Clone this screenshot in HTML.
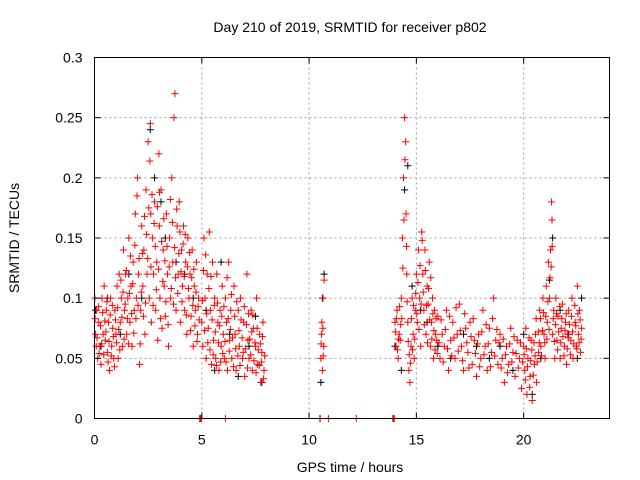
<!DOCTYPE html>
<html><head><meta charset="utf-8"><style>
html,body{margin:0;padding:0;background:#fff}
svg{display:block;font-family:"Liberation Sans",sans-serif}
</style></head><body>
<svg id="chart" width="640" height="480" viewBox="0 0 640 480" xmlns="http://www.w3.org/2000/svg">
<rect width="640" height="480" fill="#fff"/>
<text x="350" y="32" font-size="14" text-anchor="middle">Day 210 of 2019, SRMTID for receiver p802</text>
<text transform="translate(19,238) rotate(-90)" font-size="14" text-anchor="middle">SRMTID / TECUs</text>
<text x="350" y="472" font-size="14" text-anchor="middle">GPS time / hours</text>
<g id="grid"></g><g id="marks"></g><g id="axes"></g>
</svg>
<script>
const xTicks=[0,5,10,15,20];
const yTicks=[0,0.05,0.1,0.15,0.2,0.25,0.3];
const yTickLabels=["0","0.05","0.1","0.15","0.2","0.25","0.3"];
const redPoints=[[0.02,0.1],[0.05,0.07],[0.08,0.06],[0.1,0.09],[0.15,0.05],[0.2,0.08],[0.25,0.06],[0.3,0.045],[0.35,0.1],[0.4,0.07],[0.45,0.11],[0.5,0.065],[0.55,0.09],[0.6,0.055],[0.65,0.08],[0.7,0.04],[0.75,0.1],[0.8,0.06],[0.85,0.075],[0.9,0.05],[0.95,0.09],[1.0,0.07],
[1.05,0.11],[1.1,0.05],[1.15,0.12],[1.2,0.08],[1.25,0.1],[1.3,0.06],[1.35,0.14],[1.4,0.09],[1.45,0.12],[1.5,0.07],[1.55,0.1],[1.6,0.15],[1.65,0.08],[1.7,0.11],[1.75,0.06],[1.8,0.13],[1.85,0.09],[1.9,0.17],[1.95,0.1],[2.0,0.2],[2.05,0.12],[2.1,0.045],[2.15,0.09],[2.2,0.16],
[2.25,0.11],[2.3,0.14],[2.35,0.07],[2.4,0.19],[2.45,0.12],[2.5,0.23],[2.55,0.1],[2.6,0.245],[2.62,0.17],[2.65,0.08],[2.7,0.15],[2.75,0.12],[2.8,0.18],[2.85,0.09],[2.9,0.13],[2.95,0.065],[3.0,0.22],[3.02,0.16],[3.05,0.1],[3.1,0.19],[3.15,0.075],
[3.2,0.14],[3.25,0.11],[3.3,0.085],[3.35,0.17],[3.4,0.12],[3.45,0.06],[3.5,0.15],[3.55,0.1],[3.6,0.2],[3.65,0.13],[3.7,0.25],[3.75,0.27],[3.8,0.09],[3.85,0.16],[3.9,0.12],[3.95,0.18],[4.0,0.08],
[4.05,0.14],[4.1,0.11],[4.15,0.16],[4.2,0.09],[4.25,0.13],[4.3,0.07],[4.35,0.15],[4.4,0.1],[4.45,0.12],[4.5,0.085],[4.55,0.14],[4.6,0.06],[4.65,0.11],[4.7,0.09],[4.75,0.13],[4.8,0.07],[4.85,0.1],[4.9,0],[4.95,0],
[5.0,0.08],[5.05,0.06],[5.1,0.15],[5.15,0.1],[5.2,0.05],[5.25,0.12],[5.3,0.075],[5.35,0.155],[5.4,0.09],[5.45,0.045],[5.5,0.13],[5.55,0.065],[5.6,0.1],[5.65,0.05],[5.7,0.12],[5.75,0.08],[5.8,0.04],[5.85,0.09],[5.9,0.06],[5.95,0.11],[6.0,0.07],
[6.1,0],[6.05,0.05],[6.1,0.1],[6.15,0.08],[6.2,0.04],[6.25,0.13],[6.3,0.065],[6.35,0.09],[6.4,0.05],[6.5,0.11],[6.55,0.07],[6.6,0.04],[6.7,0.09],[6.75,0.06],[6.8,0.1],[6.9,0.05],[6.95,0.08],[7.0,0.035],[7.1,0.12],[7.15,0.065],[7.2,0.05],[7.3,0.09],[7.35,0.04],[7.4,0.075],[7.5,0.06],[7.55,0.1],[7.6,0.045],[7.7,0.07],[7.75,0.03],[7.8,0.055],[7.85,0.08],[7.9,0.04],
[10.5,0],[10.55,0.05],[10.58,0.07],[10.6,0.08],[10.62,0.04],[10.65,0.1],[10.68,0.06],[10.7,0.115],[10.9,0],[12.2,0],
[13.9,0],[13.95,0],[14.0,0.08],[14.05,0.06],[14.1,0.09],[14.15,0.05],[14.2,0.07],[14.25,0.065],[14.3,0.1],[14.35,0.15],[14.4,0.2],[14.45,0.25],[14.5,0.23],[14.52,0.17],[14.55,0.12],[14.6,0.08],[14.65,0.04],[14.7,0.03],[14.75,0.06],[14.8,0.1],[14.85,0.07],[14.9,0.05],[14.95,0.09],[15.0,0.12],
[15.05,0.08],[15.1,0.14],[15.15,0.1],[15.2,0.06],[15.25,0.155],[15.3,0.12],[15.35,0.09],[15.4,0.14],[15.45,0.07],[15.5,0.11],[15.55,0.095],[15.6,0.13],[15.65,0.06],[15.7,0.08],[15.75,0.1],[15.8,0.05],[15.85,0.09],[15.9,0.07],[15.95,0.065],[16.0,0.085],
[16.1,0.05],[16.2,0.07],[16.3,0.06],[16.4,0.09],[16.5,0.04],[16.6,0.065],[16.7,0.08],[16.8,0.05],[16.9,0.07],[17.0,0.095],[17.1,0.06],[17.2,0.04],[17.3,0.075],[17.4,0.055],[17.5,0.08],[17.6,0.045],[17.7,0.065],[17.8,0.035],[17.9,0.07],[18.0,0.05],[18.1,0.09],[18.2,0.06],[18.3,0.04],[18.4,0.075],[18.5,0.055],[18.6,0.1],[18.7,0.065],[18.8,0.045],[18.9,0.07],[19.0,0.05],[19.1,0.03],[19.2,0.06],[19.3,0.045],[19.4,0.075],[19.5,0.055],[19.6,0.035],[19.7,0.065],[19.8,0.05],[19.9,0.025],[20.0,0.06],
[20.05,0.04],[20.1,0.075],[20.15,0.02],[20.2,0.05],[20.3,0.035],[20.35,0.065],[20.4,0.015],[20.5,0.045],[20.55,0.07],[20.6,0.03],[20.7,0.055],[20.75,0.09],[20.8,0.06],[20.9,0.1],[20.95,0.07],
[21.0,0.05],[21.05,0.11],[21.1,0.08],[21.15,0.13],[21.2,0.1],[21.25,0.14],[21.3,0.18],[21.32,0.165],[21.35,0.07],[21.4,0.09],[21.45,0.05],[21.5,0.1],[21.55,0.065],[21.6,0.085],[21.7,0.05],[21.75,0.075],[21.8,0.095],[21.9,0.06],[21.95,0.08],[22.0,0.045],[22.05,0.07],[22.1,0.09],[22.2,0.065],[22.25,0.1],[22.3,0.05],[22.4,0.08],[22.45,0.06],[22.5,0.11],[22.55,0.07],[22.6,0.09],[22.65,0.055],[22.7,0.075]];
const redPointsExtra=[[0.03,0.083],[0.12,0.067],[0.18,0.093],[0.22,0.054],[0.28,0.077],[0.33,0.062],[0.38,0.088],[0.43,0.053],[0.48,0.081],[0.53,0.072],[0.58,0.097],[0.63,0.047],[0.68,0.064],[0.73,0.086],[0.78,0.052],[0.83,0.094],[0.88,0.068],[0.93,0.043],[0.98,0.082],
[1.03,0.063],[1.08,0.092],[1.13,0.074],[1.18,0.057],[1.23,0.115],[1.28,0.084],[1.33,0.105],[1.38,0.066],[1.43,0.095],[1.48,0.123],[1.53,0.083],[1.58,0.062],[1.63,0.104],[1.68,0.135],[1.73,0.087],[1.78,0.112],[1.83,0.071],[1.88,0.144],[1.93,0.083],[1.98,0.185],[2.03,0.094],[2.08,0.133],[2.13,0.062],[2.18,0.105],[2.23,0.137],
[2.28,0.085],[2.33,0.168],[2.38,0.096],[2.43,0.153],[2.48,0.133],[2.53,0.175],[2.58,0.214],[2.63,0.126],[2.68,0.186],[2.73,0.094],[2.78,0.162],[2.83,0.143],[2.88,0.107],[2.93,0.176],[2.98,0.124],[3.03,0.188],[3.08,0.083],[3.13,0.147],[3.18,0.114],
[3.23,0.166],[3.28,0.131],[3.33,0.097],[3.38,0.143],[3.43,0.078],[3.48,0.126],[3.53,0.182],[3.58,0.108],[3.63,0.163],[3.68,0.095],[3.73,0.142],[3.78,0.117],[3.83,0.174],[3.88,0.104],[3.93,0.137],[3.98,0.155],[4.03,0.122],
[4.08,0.097],[4.13,0.145],[4.18,0.118],[4.23,0.153],[4.28,0.086],[4.33,0.126],[4.38,0.108],[4.43,0.138],[4.48,0.073],[4.53,0.117],[4.58,0.094],[4.63,0.124],[4.68,0.077],[4.73,0.105],[4.78,0.064],[4.83,0.093],[4.88,0.082],[4.92,0],[4.97,0],[4.99,0],
[5.03,0.098],[5.08,0.123],[5.13,0.073],[5.18,0.136],[5.23,0.087],[5.28,0.063],[5.33,0.108],[5.38,0.057],[5.43,0.118],[5.48,0.082],[5.53,0.053],[5.58,0.094],[5.63,0.072],[5.68,0.044],[5.73,0.096],[5.78,0.063],[5.83,0.077],[5.88,0.047],[5.93,0.085],[5.98,0.054],
[6.03,0.093],[6.08,0.064],[6.13,0.047],[6.18,0.117],[6.23,0.083],[6.28,0.056],[6.33,0.074],[6.38,0.103],[6.43,0.067],[6.48,0.043],[6.53,0.085],[6.58,0.058],[6.63,0.097],[6.68,0.052],[6.73,0.073],[6.78,0.044],[6.83,0.082],[6.88,0.067],[6.93,0.055],[6.98,0.093],
[7.03,0.058],[7.08,0.078],[7.13,0.042],[7.18,0.087],[7.23,0.066],[7.28,0.053],[7.33,0.072],[7.38,0.086],[7.43,0.048],[7.48,0.063],[7.53,0.038],[7.58,0.075],[7.63,0.057],[7.68,0.044],[7.73,0.062],[7.78,0.047],[7.83,0.068],[7.88,0.033],[7.93,0.052],
[10.51,0],[10.52,0],[10.56,0.062],[10.64,0.075],[10.66,0.052],
[13.92,0],[13.97,0],[14.02,0.072],[14.07,0.083],[14.12,0.057],[14.17,0.066],[14.22,0.093],[14.27,0.078],[14.32,0.083],[14.37,0.125],[14.42,0.165],[14.47,0.215],[14.54,0.143],[14.57,0.097],[14.62,0.064],[14.67,0.053],[14.72,0.046],[14.77,0.083],[14.82,0.057],[14.87,0.094],[14.92,0.066],[14.97,0.104],
[15.02,0.087],[15.07,0.113],[15.12,0.074],[15.17,0.127],[15.22,0.095],[15.27,0.148],[15.32,0.105],[15.37,0.078],[15.42,0.123],[15.47,0.094],[15.52,0.063],[15.57,0.108],[15.62,0.082],[15.67,0.117],[15.72,0.066],[15.77,0.087],[15.82,0.073],[15.87,0.057],[15.92,0.083],[15.97,0.054],
[16.05,0.063],[16.15,0.082],[16.25,0.047],[16.35,0.074],[16.45,0.058],[16.55,0.085],[16.65,0.052],[16.75,0.067],[16.85,0.092],[16.95,0.056],[17.05,0.073],[17.15,0.048],[17.25,0.087],[17.35,0.063],[17.45,0.042],[17.55,0.068],[17.65,0.083],[17.75,0.054],[17.85,0.062],[17.95,0.043],[18.05,0.072],[18.15,0.053],[18.25,0.078],[18.35,0.062],[18.45,0.043],[18.55,0.083],[18.65,0.052],[18.75,0.074],[18.85,0.063],[18.95,0.042],[19.05,0.066],[19.15,0.053],[19.25,0.038],[19.35,0.062],[19.45,0.047],[19.55,0.068],[19.65,0.054],[19.75,0.042],[19.85,0.063],[19.95,0.047],
[20.02,0.053],[20.08,0.032],[20.12,0.058],[20.18,0.043],[20.25,0.067],[20.28,0.026],[20.33,0.048],[20.38,0.057],[20.45,0.036],[20.48,0.063],[20.53,0.052],[20.58,0.083],[20.63,0.047],[20.68,0.072],[20.73,0.063],[20.78,0.083],[20.83,0.052],[20.88,0.073],[20.93,0.088],[20.98,0.063],
[21.03,0.085],[21.08,0.066],[21.13,0.097],[21.18,0.074],[21.23,0.117],[21.28,0.126],[21.33,0.143],[21.38,0.083],[21.43,0.064],[21.48,0.078],[21.53,0.087],[21.58,0.057],[21.63,0.072],[21.68,0.093],[21.73,0.063],[21.78,0.083],[21.83,0.068],[21.88,0.052],[21.93,0.073],[21.98,0.087],[22.03,0.058],[22.08,0.067],[22.13,0.078],[22.18,0.053],[22.23,0.085],[22.28,0.072],[22.33,0.062],[22.38,0.094],[22.43,0.077],[22.48,0.058],[22.53,0.087],[22.58,0.063],[22.63,0.082],[22.68,0.066]];
const blackPoints=[[0.05,0.09],[0.3,0.06],[0.6,0.1],[1.2,0.07],[1.6,0.12],[2.2,0.1],[2.6,0.24],[2.8,0.2],[3.1,0.18],[3.3,0.15],[3.8,0.13],[4.2,0.12],[4.6,0.1],[5.2,0.09],[5.6,0.04],[5.9,0.13],[6.3,0.07],[6.7,0.035],[7.2,0.06],[7.5,0.085],[7.8,0.03],[10.55,0.03],[10.62,0.1],[10.7,0.12],[14.0,0.06],[14.3,0.04],[14.45,0.19],[14.6,0.21],[14.8,0.11],[15.2,0.09],[15.5,0.08],[16.0,0.06],[16.6,0.05],[17.2,0.07],[17.8,0.06],[18.4,0.05],[18.9,0.06],[19.5,0.04],[20.0,0.07],[20.4,0.02],[20.8,0.05],[21.2,0.115],[21.35,0.15],[21.7,0.09],[22.1,0.07],[22.5,0.05],[22.7,0.1]];

const L=94.5,R=609.5,T=57.5,B=418.5;
const xMin=0,xMax=24,yMin=0,yMax=0.3;
function xs(v){return L+(v-xMin)/(xMax-xMin)*(R-L);}
function ys(v){return B-(v-yMin)/(yMax-yMin)*(B-T);}
const NS="http://www.w3.org/2000/svg";
function mk(tag,attrs,parent){const e=document.createElementNS(NS,tag);for(const k in attrs)e.setAttribute(k,attrs[k]);parent.appendChild(e);return e;}
const grid=document.getElementById('grid'),marks=document.getElementById('marks'),axes=document.getElementById('axes');
xTicks.forEach(t=>{
  const x=xs(t);
  if(t>xMin){const g=mk('line',{x1:x,y1:T,x2:x,y2:B,stroke:'#a0a0a0','stroke-dasharray':'2,3'},grid);
  
  }
  mk('line',{x1:x,y1:B,x2:x,y2:B-6,stroke:'#000'},axes);
  mk('line',{x1:x,y1:T,x2:x,y2:T+6,stroke:'#000'},axes);
  const lb=mk('text',{x:x,y:B+26,'font-size':14,'text-anchor':'middle'},axes);
  lb.textContent=String(t);
  
  
});
yTicks.forEach((t,i)=>{
  const y=ys(t);
  if(t>yMin&&t<yMax){const g=mk('line',{x1:L,y1:y,x2:R,y2:y,stroke:'#a0a0a0','stroke-dasharray':'2,3'},grid);
  
  }
  mk('line',{x1:L,y1:y,x2:L+6,y2:y,stroke:'#000'},axes);
  mk('line',{x1:R,y1:y,x2:R-6,y2:y,stroke:'#000'},axes);
  const lb=mk('text',{x:L-12,y:y+5,'font-size':14,'text-anchor':'end'},axes);
  lb.textContent=yTickLabels[i];
  
  
});
const border=mk('rect',{x:L,y:T,width:R-L,height:B-T,fill:'none',stroke:'#000'},axes);


function plus(p,color,name){
  const x=xs(p[0]),y=ys(p[1]);
  const e=mk('path',{d:`M${x-3.5},${y}h7M${x},${y-3.5}v7`,stroke:color,'stroke-width':1,fill:'none'},marks);
  
  
}
blackPoints.forEach(p=>plus(p,'#000','black-point'));
redPoints.forEach(p=>plus(p,'#ff0000','red-point'));
redPointsExtra.forEach(p=>plus(p,'#ff0000','red-point'));
</script>
</body></html>
